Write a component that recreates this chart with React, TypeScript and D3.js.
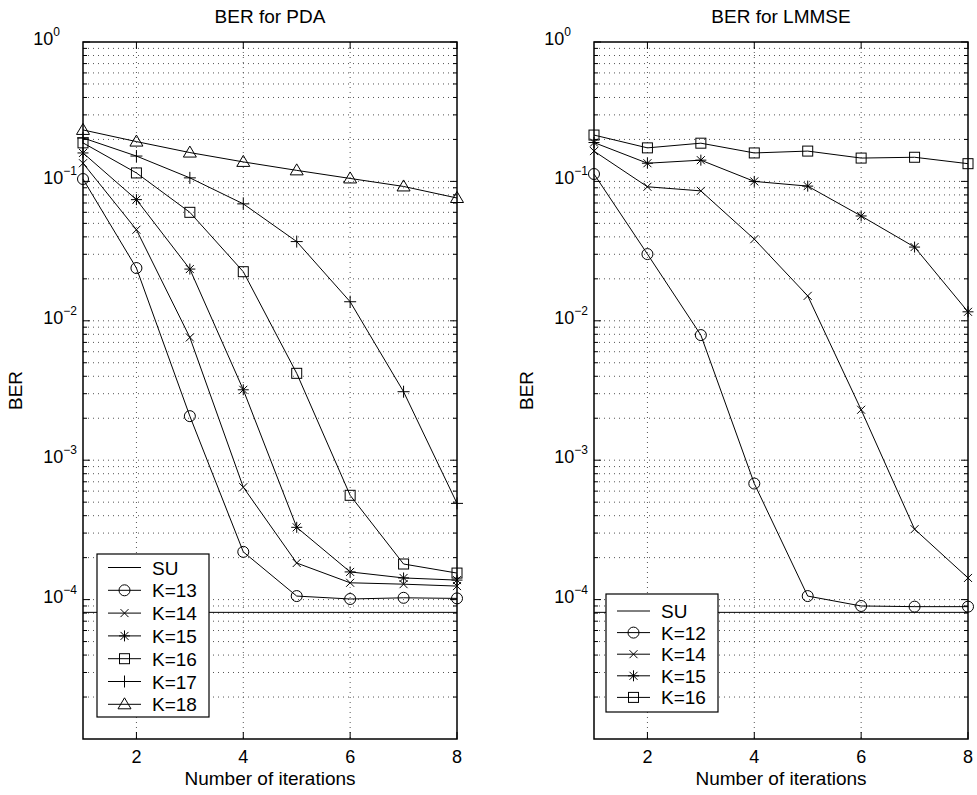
import React from "react";
import * as d3 from "d3";

const FONT = "'Liberation Sans', Arial, Helvetica, sans-serif";

const iterations = [1, 2, 3, 4, 5, 6, 7, 8];
const xTicks = [2, 4, 6, 8];
const decades = [0, -1, -2, -3, -4];
const suBer = 8.1e-5;

// BER for PDA
const pdaK13 = [0.104, 0.0239, 2.07e-3, 2.2e-4, 1.06e-4, 1.01e-4, 1.03e-4, 1.02e-4];
const pdaK14 = [0.135, 0.045, 7.6e-3, 6.4e-4, 1.83e-4, 1.32e-4, 1.29e-4, 1.25e-4];
const pdaK15 = [0.16, 0.074, 0.0235, 3.2e-3, 3.3e-4, 1.58e-4, 1.43e-4, 1.38e-4];
const pdaK16 = [0.189, 0.115, 0.06, 0.0225, 4.2e-3, 5.6e-4, 1.8e-4, 1.55e-4];
const pdaK17 = [0.205, 0.152, 0.106, 0.069, 0.037, 0.0137, 3.1e-3, 4.9e-4];
const pdaK18 = [0.234, 0.193, 0.161, 0.138, 0.12, 0.105, 0.092, 0.076];

// BER for LMMSE
const lmK12 = [0.113, 0.0301, 7.9e-3, 6.8e-4, 1.06e-4, 9.0e-5, 8.9e-5, 8.9e-5];
const lmK14 = [0.165, 0.0915, 0.0855, 0.0385, 0.0151, 2.3e-3, 3.2e-4, 1.43e-4];
const lmK15 = [0.19, 0.135, 0.142, 0.1, 0.0925, 0.0565, 0.0338, 0.0116];
const lmK16 = [0.215, 0.174, 0.188, 0.16, 0.165, 0.147, 0.149, 0.134];

const pdaSeries = [
  { label: "K=13", marker: "circle", values: pdaK13 },
  { label: "K=14", marker: "x", values: pdaK14 },
  { label: "K=15", marker: "star", values: pdaK15 },
  { label: "K=16", marker: "square", values: pdaK16 },
  { label: "K=17", marker: "plus", values: pdaK17 },
  { label: "K=18", marker: "triangle", values: pdaK18 },
];

const lmSeries = [
  { label: "K=12", marker: "circle", values: lmK12 },
  { label: "K=14", marker: "x", values: lmK14 },
  { label: "K=15", marker: "star", values: lmK15 },
  { label: "K=16", marker: "square", values: lmK16 },
];

const Marker = ({ type, x, y }) => {
  const s = { stroke: "#000", strokeWidth: 1, fill: "none" };
  if (type === "circle") return <circle cx={x} cy={y} r={5.5} {...s} />;
  if (type === "square") return <rect x={x - 5} y={y - 5} width={10} height={10} {...s} />;
  if (type === "triangle")
    return <path d={`M${x},${y - 6.5}L${x + 6.5},${y + 4.5}L${x - 6.5},${y + 4.5}Z`} {...s} />;
  if (type === "plus") return <path d={`M${x - 6},${y}H${x + 6}M${x},${y - 6}V${y + 6}`} {...s} />;
  if (type === "x") return <path d={`M${x - 4},${y - 4}L${x + 4},${y + 4}M${x - 4},${y + 4}L${x + 4},${y - 4}`} {...s} />;
  if (type === "star")
    return (
      <path
        d={`M${x - 5.5},${y}H${x + 5.5}M${x},${y - 5.5}V${y + 5.5}M${x - 4},${y - 4}L${x + 4},${y + 4}M${x - 4},${y + 4}L${x + 4},${y - 4}`}
        {...s}
      />
    );
  return null;
};

const Panel = ({ left, title, series, legend }) => {
  const top = 42;
  const bottom = 739;
  const right = left + 374;
  const x = d3.scaleLinear().domain([1, 8]).range([left, right]);
  const y = d3.scaleLog().domain([1e-5, 1]).range([bottom, top]);
  const line = d3.line<number>().x((d, i) => x(iterations[i])).y((d) => y(d));

  const minor: number[] = [];
  for (let e = -5; e < 0; e++) for (let m = 2; m <= 9; m++) minor.push(m * Math.pow(10, e));
  const major = [1e-4, 1e-3, 1e-2, 1e-1];

  return (
    <g fontFamily={FONT}>
      {/* grid */}
      {[...major, ...minor].map((v, i) => (
        <line key={"gy" + i} x1={left} x2={right} y1={y(v)} y2={y(v)} stroke="#555" strokeDasharray="1,4" strokeWidth={1} />
      ))}
      {xTicks.slice(0, 3).map((v) => (
        <line key={"gx" + v} x1={x(v)} x2={x(v)} y1={top} y2={bottom} stroke="#555" strokeDasharray="1,4" strokeWidth={1} />
      ))}
      {/* ticks */}
      {major.concat([1]).map((v, i) => (
        <g key={"ty" + i}>
          <line x1={left} x2={left + 7} y1={y(v)} y2={y(v)} stroke="#000" />
          <line x1={right} x2={right - 7} y1={y(v)} y2={y(v)} stroke="#000" />
        </g>
      ))}
      {minor.map((v, i) => (
        <g key={"tm" + i}>
          <line x1={left} x2={left + 4} y1={y(v)} y2={y(v)} stroke="#000" />
          <line x1={right} x2={right - 4} y1={y(v)} y2={y(v)} stroke="#000" />
        </g>
      ))}
      {xTicks.map((v) => (
        <g key={"tx" + v}>
          <line x1={x(v)} x2={x(v)} y1={bottom} y2={bottom - 7} stroke="#000" />
          <line x1={x(v)} x2={x(v)} y1={top} y2={top + 7} stroke="#000" />
          <text x={x(v)} y={bottom + 24} textAnchor="middle" fontSize={18}>{v}</text>
        </g>
      ))}
      {decades.map((e) => (
        <text key={"yl" + e} x={e === 0 ? left - 23 : left - 6} y={y(Math.pow(10, e)) + 3} textAnchor="end" fontSize={18}>
          10<tspan dy={-9} fontSize={12}>{e === 0 ? "0" : "\u2212" + -e}</tspan>
        </text>
      ))}
      {/* SU line */}
      <line x1={left} x2={right} y1={y(suBer)} y2={y(suBer)} stroke="#000" />
      {/* series */}
      {series.map((s) => (
        <g key={s.label}>
          <path d={line(s.values) || ""} fill="none" stroke="#000" strokeWidth={1} />
          {s.values.map((v, i) => (
            <Marker key={i} type={s.marker} x={x(iterations[i])} y={y(v)} />
          ))}
        </g>
      ))}
      {/* axes box */}
      <rect x={left} y={top} width={right - left} height={bottom - top} fill="none" stroke="#000" strokeWidth={1.5} />
      {/* labels */}
      <text x={(left + right) / 2} y={23} textAnchor="middle" fontSize={19}>{title}</text>
      <text x={(left + right) / 2} y={785} textAnchor="middle" fontSize={19}>Number of iterations</text>
      <text transform={`translate(${left - 61},${(top + bottom) / 2}) rotate(-90)`} textAnchor="middle" fontSize={19}>BER</text>
      {/* legend */}
      <g>
        <rect x={legend.x} y={legend.y} width={legend.w} height={legend.h} fill="#fff" stroke="#000" strokeWidth={1.2} />
        {[{ label: "SU", marker: "none" }, ...series].map((s, i) => {
          const ry = legend.y + legend.first + i * legend.step;
          return (
            <g key={"lg" + i}>
              <line x1={legend.x + 11} x2={legend.x + 44} y1={ry} y2={ry} stroke="#000" />
              <Marker type={s.marker} x={legend.x + 27.5} y={ry} />
              <text x={legend.x + 55} y={ry + 7} fontSize={19}>{s.label}</text>
            </g>
          );
        })}
      </g>
    </g>
  );
};

export default function App() {
  return (
    <svg width={977} height={795} style={{ position: "absolute", left: 0, top: 0, background: "#fff" }}>
      <rect width={977} height={795} fill="#fff" />
      <Panel left={83} title="BER for PDA" series={pdaSeries} legend={{ x: 97, y: 554, w: 112, h: 163, first: 13.5, step: 22.8 }} />
      <Panel left={594} title="BER for LMMSE" series={lmSeries} legend={{ x: 606, y: 594, w: 112, h: 118, first: 17, step: 21.6 }} />
    </svg>
  );
}
